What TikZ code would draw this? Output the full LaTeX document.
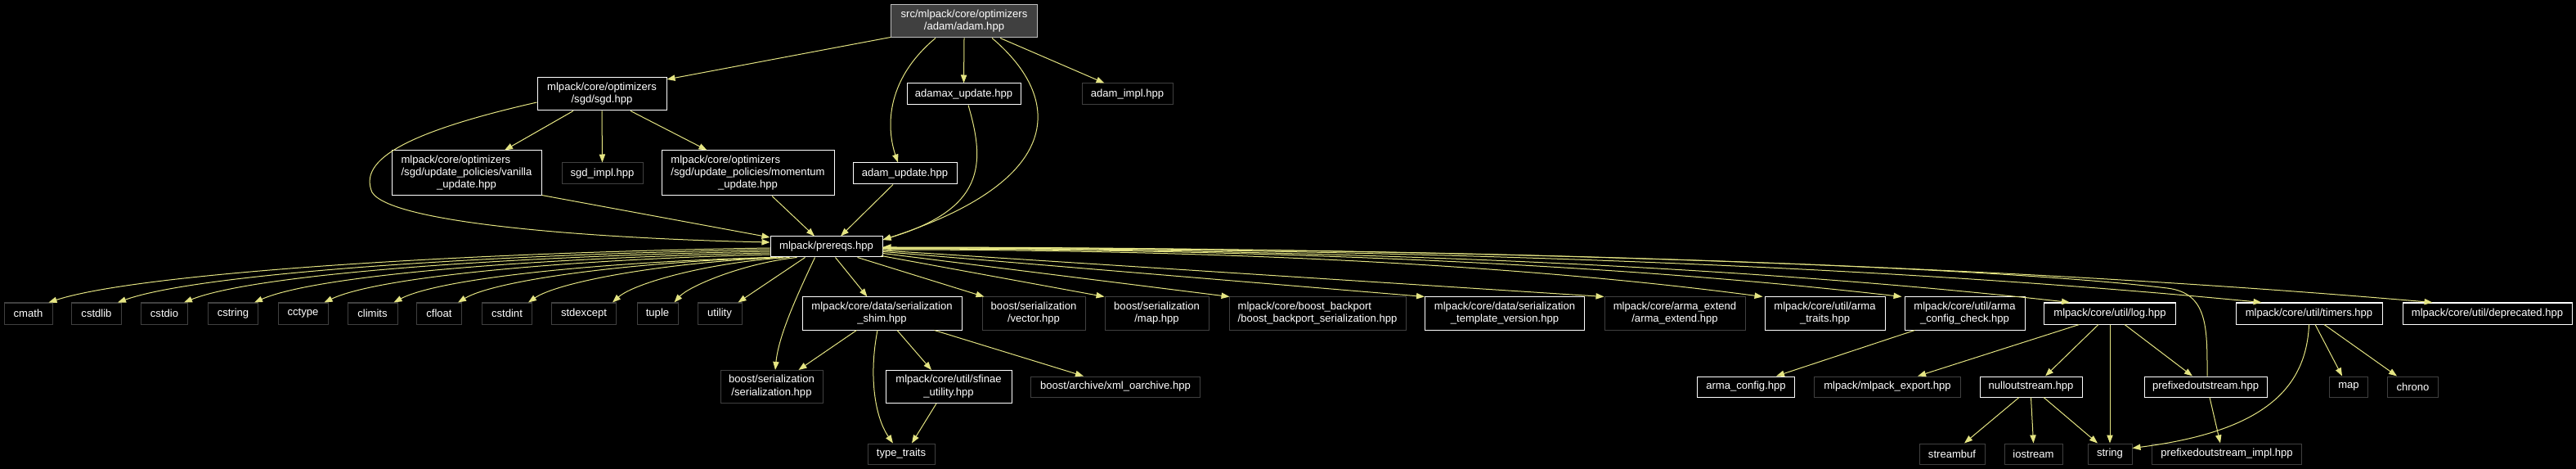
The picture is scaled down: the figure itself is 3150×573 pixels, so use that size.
\documentclass[tikz,border=0pt]{standalone}
\usepackage{fontspec}
\setmainfont{Liberation Sans}
\usetikzlibrary{arrows.meta,calc}
\definecolor{edgecol}{RGB}{228,228,130}
\definecolor{graybd}{RGB}{64,64,64}
\definecolor{rootfill}{RGB}{64,64,64}
\definecolor{rootbd}{RGB}{191,191,191}
\newcommand{\lbtwo}[2]{\begin{tabular}{@{}l@{}}#1\\\multicolumn{1}{@{}c@{}}{#2}\end{tabular}}
\newcommand{\lbthree}[3]{\begin{tabular}{@{}l@{}}#1\\#2\\\multicolumn{1}{@{}c@{}}{#3}\end{tabular}}
\tikzset{
  box/.style={rectangle, inner sep=0pt, text=white, fill=black, font=\fontsize{9.8}{11.5}\selectfont, line width=0.75pt},
  doc/.style={box, draw=white},
  undoc/.style={box, draw=graybd},
  bw/.style={minimum width=#1*0.75pt},
  bh/.style={minimum height=#1*0.75pt},
  inc/.style={draw=edgecol, line width=0.75pt, -{Triangle[length=7.5pt,width=5.5pt]}}
}
\begin{document}
\begin{tikzpicture}[x=0.75pt,y=-0.75pt]
\useasboundingbox (0,0) rectangle (3150,573);
\fill[black] (0,0) rectangle (3150,573);
% top
\node[box,draw=rootbd,fill=rootfill,bw=179,bh=40] (root) at (1179,26) {\lbtwo{src/mlpack/core/optimizers}{/adam/adam.hpp}};
\node[doc,bw=158,bh=40] (sgd) at (736,115) {\lbtwo{mlpack/core/optimizers}{/sgd/sgd.hpp}};
\node[doc,bw=139,bh=26] (adamax) at (1178.5,115) {adamax\_update.hpp};
\node[undoc,bw=111,bh=26] (adamimpl) at (1378.5,115) {adam\_impl.hpp};
\node[doc,bw=183,bh=55] (vanilla) at (570.5,211.5) {\lbthree{mlpack/core/optimizers}{/sgd/update\_policies/vanilla}{\_update.hpp}};
\node[undoc,bw=99,bh=26] (sgdimpl) at (736.5,212) {sgd\_impl.hpp};
\node[doc,bw=211,bh=55] (momentum) at (914.5,211.5) {\lbthree{mlpack/core/optimizers}{/sgd/update\_policies/momentum}{\_update.hpp}};
\node[doc,bw=127,bh=26] (adamupd) at (1106.5,212) {adam\_update.hpp};
\node[doc,bw=137,bh=25] (prereqs) at (1010.5,301.5) {mlpack/prereqs.hpp};
% row 2
\node[undoc,bw=59,bh=26] (cmath) at (34.5,383) {cmath};
\node[undoc,bw=61,bh=26] (cstdlib) at (118,383) {cstdlib};
\node[undoc,bw=57,bh=26] (cstdio) at (201,383) {cstdio};
\node[undoc,bw=61,bh=26] (cstring) at (285,383) {cstring};
\node[undoc,bw=61,bh=26] (cctype) at (370.5,383) {cctype};
\node[undoc,bw=61,bh=26] (climits) at (455.5,383) {climits};
\node[undoc,bw=55,bh=26] (cfloat) at (537,383) {cfloat};
\node[undoc,bw=61,bh=26] (cstdint) at (620,383) {cstdint};
\node[undoc,bw=79,bh=26] (stdexcept) at (714,383) {stdexcept};
\node[undoc,bw=50,bh=26] (tuple) at (804,383) {tuple};
\node[undoc,bw=54,bh=26] (utility) at (880,383) {utility};
\node[doc,bw=195,bh=40] (shim) at (1078.5,383) {\lbtwo{mlpack/core/data/serialization}{\_shim.hpp}};
\node[undoc,bw=126,bh=40] (vector) at (1264,383) {\lbtwo{boost/serialization}{/vector.hpp}};
\node[undoc,bw=127,bh=40] (bmap) at (1414.5,383) {\lbtwo{boost/serialization}{/map.hpp}};
\node[undoc,bw=216,bh=40] (backport) at (1611,383) {\lbtwo{mlpack/core/boost\_backport}{/boost\_backport\_serialization.hpp}};
\node[doc,bw=195,bh=40] (tmplver) at (1840,383) {\lbtwo{mlpack/core/data/serialization}{\_template\_version.hpp}};
\node[undoc,bw=172,bh=40] (armaext) at (2048,383) {\lbtwo{mlpack/core/arma\_extend}{/arma\_extend.hpp}};
\node[doc,bw=147,bh=40] (armatraits) at (2231.5,383) {\lbtwo{mlpack/core/util/arma}{\_traits.hpp}};
\node[doc,bw=147,bh=40] (cfgcheck) at (2402.5,383) {\lbtwo{mlpack/core/util/arma}{\_config\_check.hpp}};
\node[doc,bw=161,bh=26] (log) at (2580,383) {mlpack/core/util/log.hpp};
\node[doc,bw=179,bh=26] (timers) at (2823.5,383) {mlpack/core/util/timers.hpp};
\node[doc,bw=207,bh=26] (deprecated) at (3041.5,383) {mlpack/core/util/deprecated.hpp};
% row 3
\node[undoc,bw=125,bh=40] (bser) at (943.5,472.5) {\lbtwo{boost/serialization}{/serialization.hpp}};
\node[doc,bw=154,bh=40] (sfinae) at (1160,472.5) {\lbtwo{mlpack/core/util/sfinae}{\_utility.hpp}};
\node[undoc,bw=207,bh=25] (xml) at (1364,472.5) {boost/archive/xml\_oarchive.hpp};
\node[doc,bw=119,bh=25] (armacfg) at (2135,472.5) {arma\_config.hpp};
\node[undoc,bw=179,bh=25] (export) at (2308,472.5) {mlpack/mlpack\_export.hpp};
\node[doc,bw=125,bh=25] (nullos) at (2483.5,472.5) {nulloutstream.hpp};
\node[doc,bw=150,bh=25] (prefos) at (2697,472.5) {prefixedoutstream.hpp};
\node[undoc,bw=47,bh=25] (smap) at (2872,472.5) {map};
\node[undoc,bw=62,bh=25] (chrono) at (2950.5,472.5) {chrono};
% row 4
\node[undoc,bw=82,bh=25] (typetraits) at (1102,554.5) {type\_traits};
\node[undoc,bw=80,bh=25] (streambuf) at (2387,554.5) {streambuf};
\node[undoc,bw=71,bh=25] (iostream) at (2486.5,554.5) {iostream};
\node[undoc,bw=54,bh=25] (string) at (2580,554.5) {string};
\node[undoc,bw=183,bh=25] (prefimpl) at (2723,554.5) {prefixedoutstream\_impl.hpp};
% edges from root
\draw[inc] ($(root.south west)+(0,-1)$) -- ($(sgd.east)+(0,-18)$);
\draw[inc] ($(root.south west)+(55,0)$) .. controls (1080,100) and (1085,160) .. ($(adamupd.north)+(-8.5,0)$);
\draw[inc] (root.south) -- (adamax.north);
\draw[inc] ($(root.south)+(34,0)$) .. controls (1300,120) and (1305,220) .. ($(prereqs.east)+(0,-8.5)$);
\draw[inc] ($(root.south east)+(-46,0)$) -- ($(adamimpl.north west)+(28,0)$);
% sgd
\draw[inc] ($(sgd.south)+(-35,0)$) -- ($(vanilla.north)+(46.5,0)$);
\draw[inc] (sgd.south) -- (sgdimpl.north);
\draw[inc] ($(sgd.south)+(35,0)$) -- ($(momentum.north west)+(56,0)$);
\draw[inc] ($(sgd.west)+(0,10)$) .. controls (480,165) and (440,200) .. (455,235) .. controls (480,275) and (750,292) .. ($(prereqs.west)+(0,-5.5)$);
% into prereqs
\draw[inc] ($(vanilla.south east)+(0,-1)$) -- ($(prereqs.west)+(0,-11.5)$);
\draw[inc] ($(momentum.south)+(29.5,0)$) -- ($(prereqs.north)+(-14.5,0)$);
\draw[inc] ($(adamupd.south)+(-14.5,0)$) -- ($(prereqs.north)+(17.5,0)$);
\draw[inc] ($(adamax.south)+(5.5,0)$) .. controls (1205,200) and (1205,255) .. ($(prereqs.east)+(0,-8.5)$);
\draw[inc] ($(prefos.north)+(2,0)$) .. controls (2699,400) and (2700,358) .. (2650,352) .. controls (2400,322) and (1700,302) .. ($(prereqs.east)+(0,0.5)$);
% prereqs left fan
\draw[inc] ($(prereqs.west)+(0,1.5)$) .. controls (545,309) and (165,335) .. ($(cmath.north east)+(-5,0)$);
\draw[inc] ($(prereqs.west)+(0,3.5)$) .. controls (583,311) and (240,335) .. ($(cstdlib.north east)+(-5,0)$);
\draw[inc] ($(prereqs.west)+(0,5.5)$) .. controls (619,313) and (311,335) .. ($(cstdio.north east)+(-5,0)$);
\draw[inc] ($(prereqs.west)+(0,7.5)$) .. controls (658,315) and (387,336) .. ($(cstring.north east)+(-5,0)$);
\draw[inc] ($(prereqs.west)+(0,9.5)$) .. controls (696,317) and (462,338) .. ($(cctype.north east)+(-5,0)$);
\draw[inc] ($(prereqs.south west)+(2,0)$) .. controls (736,320) and (537,340) .. ($(climits.north east)+(-5,0)$);
\draw[inc] ($(prereqs.south west)+(8,0)$) .. controls (774,320) and (606,342) .. ($(cfloat.north east)+(-5,0)$);
\draw[inc] ($(prereqs.south west)+(16,0)$) .. controls (817,320) and (683,344) .. ($(cstdint.north east)+(-5,0)$);
\draw[inc] ($(prereqs.south west)+(24,0)$) .. controls (868,320) and (775,346) .. ($(stdexcept.north east)+(-5,0)$);
\draw[inc] ($(prereqs.south west)+(33,0)$) .. controls (907,322) and (842,350) .. ($(tuple.north east)+(-5,0)$);
\draw[inc] ($(prereqs.south west)+(43,0)$) -- ($(utility.north east)+(-5,0)$);
\draw[inc] ($(prereqs.south west)+(55,0)$) .. controls (975,360) and (952,410) .. ($(bser.north)+(4.5,0)$);
\draw[inc] ($(prereqs.south west)+(80,0)$) -- ($(shim.north west)+(80,0)$);
% prereqs right fan
\draw[inc] ($(prereqs.south east)+(-31,0)$) -- ($(vector.north west)+(3,0)$);
\draw[inc] ($(prereqs.south east)+(-2,-2)$) -- (bmap.north west);
\draw[inc] ($(prereqs.east)+(0,8)$) -- ($(backport.north west)+(1,0)$);
\draw[inc] ($(prereqs.east)+(0,6)$) -- (tmplver.north west);
\draw[inc] ($(prereqs.east)+(0,4.5)$) -- (armaext.north west);
\draw[inc] ($(prereqs.east)+(0,3.5)$) .. controls (1596,305) and (1940,334) .. ($(armatraits.north west)+(-2,0)$);
\draw[inc] ($(prereqs.east)+(0,2.5)$) .. controls (1678,304) and (2077,334) .. ($(cfgcheck.north west)+(-3,0)$);
\draw[inc] ($(prereqs.east)+(0,2)$) .. controls (1776,303.5) and (2241,337) .. ($(log.north west)+(32,0)$);
\draw[inc] ($(prereqs.east)+(0,1.5)$) .. controls (1889,303) and (2429,337) .. ($(timers.north west)+(32,0)$);
\draw[inc] ($(prereqs.east)+(0,1)$) .. controls (1989,302.5) and (2596,337) .. ($(deprecated.north west)+(37,0)$);
% shim
\draw[inc] ($(shim.south west)+(67,0)$) -- ($(bser.north east)+(-30,0)$);
\draw[inc] ($(shim.south)+(-5.5,0)$) .. controls (1062,460) and (1070,510) .. ($(typetraits.north)+(-10,0)$);
\draw[inc] ($(shim.south)+(18.5,0)$) -- ($(sfinae.north)+(-21,0)$);
\draw[inc] ($(shim.south east)+(-34,0)$) -- ($(xml.north)+(-39,0)$);
\draw[inc] ($(sfinae.south)+(-15,0)$) -- ($(typetraits.north)+(13,0)$);
% util
\draw[inc] ($(cfgcheck.south west)+(13,0)$) -- ($(armacfg.north)+(37,0)$);
\draw[inc] ($(log.south west)+(43.5,0)$) -- ($(export.north)+(37,0)$);
\draw[inc] ($(log.south)+(-14,0)$) -- ($(nullos.north)+(17.5,0)$);
\draw[inc] (log.south) -- (string.north);
\draw[inc] ($(log.south)+(18,0)$) -- ($(prefos.north)+(-16,0)$);
\draw[inc] (timers.south) .. controls (2820,480) and (2760,528) .. ($(string.north east)+(0,6)$);
\draw[inc] ($(timers.south)+(7.5,0)$) -- ($(smap.north)+(-8,0)$);
\draw[inc] ($(timers.south)+(18.5,0)$) -- ($(chrono.north)+(-19.5,0)$);
\draw[inc] ($(nullos.south)+(-14.5,0)$) -- ($(streambuf.north)+(15,0)$);
\draw[inc] (nullos.south) -- (iostream.north);
\draw[inc] ($(nullos.south)+(15.5,0)$) -- ($(string.north)+(-15,0)$);
\draw[inc] ($(prefos.south)+(5,0)$) -- ($(prefimpl.north)+(-8,0)$);
\end{tikzpicture}
\end{document}
